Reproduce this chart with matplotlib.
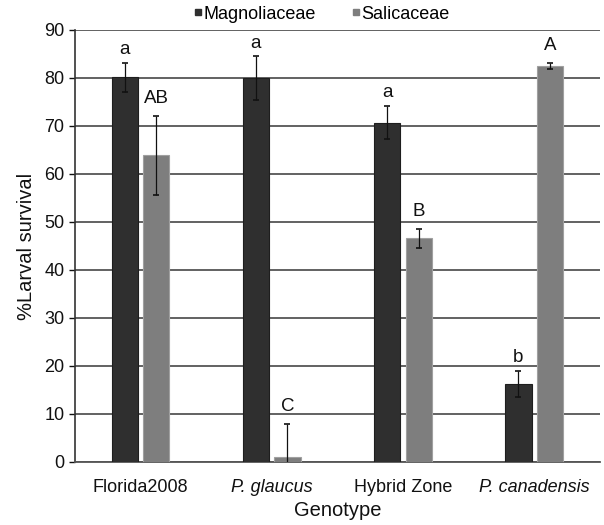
import matplotlib
matplotlib.use("Agg")
import matplotlib.pyplot as plt
import numpy as np
from matplotlib.lines import Line2D

plt.rcParams['font.family'] = ['Liberation Sans', 'DejaVu Sans']

genotypes = ["Florida2008", "P. glaucus", "Hybrid Zone", "P. canadensis"]
italic = [False, True, False, True]
magnoliaceae = [80.1, 79.9, 70.7, 16.3]
magnoliaceae_err = [3.0, 4.6, 3.4, 2.7]
salicaceae = [63.9, 1.1, 46.6, 82.5]
salicaceae_err = [8.2, 6.8, 2.0, 0.6]
mag_letters = ["a", "a", "a", "b"]
sal_letters = ["AB", "C", "B", "A"]

dark = "#2f2f2f"
gray = "#7e7e7e"

fig = plt.figure(figsize=(6.04, 5.25), dpi=100)
ax = fig.add_axes([0.124, 0.12, 0.869, 0.823])

x = np.arange(len(genotypes))
w = 0.2
off = 0.12
ax.bar(x - off, magnoliaceae, w, color=dark, edgecolor="#1e1e1e", linewidth=0.8, zorder=3)
ax.bar(x + off, salicaceae, w, color=gray, edgecolor="#a0a0a0", linewidth=0.8, zorder=3)
ax.errorbar(x - off, magnoliaceae, yerr=magnoliaceae_err, fmt='none', ecolor='#111111',
            elinewidth=0.9, capsize=2.5, capthick=1.2, zorder=4)
ax.errorbar(x + off, salicaceae, yerr=salicaceae_err, fmt='none', ecolor='#111111',
            elinewidth=0.9, capsize=2.5, capthick=1.2, zorder=4)

for i in range(len(genotypes)):
    ax.text(x[i] - off, magnoliaceae[i] + magnoliaceae_err[i] + 1.0, mag_letters[i],
            ha='center', va='bottom', fontsize=13.5, color='#111111')
    ax.text(x[i] + off, salicaceae[i] + salicaceae_err[i] + 1.8, sal_letters[i],
            ha='center', va='bottom', fontsize=13.5, color='#111111')

ax.set_xlim(-0.5, 3.5)
ax.set_ylim(0, 90)
ax.set_yticks(np.arange(0, 91, 10))
ax.yaxis.grid(True, color='#555555', linewidth=1.3, zorder=0)
ax.set_axisbelow(True)
ax.set_xticks(x)
ax.set_xticklabels(genotypes)
for lbl, it in zip(ax.get_xticklabels(), italic):
    if it:
        lbl.set_fontstyle('italic')
ax.tick_params(axis='x', length=0, labelsize=13, pad=12, colors='#111111')
ax.tick_params(axis='y', length=4, width=1, labelsize=13, colors='#111111', direction='out')
for s in ['top', 'right']:
    ax.spines[s].set_visible(False)
ax.spines['left'].set_color('#333333')
ax.spines['left'].set_linewidth(1.2)
ax.spines['bottom'].set_color('#555555')
ax.spines['bottom'].set_linewidth(1.3)

ax.set_ylabel("%Larval survival", fontsize=14.5, color='#111111', labelpad=6)
ax.set_xlabel("Genotype", fontsize=14.5, color='#111111', labelpad=4)

handles = [Line2D([], [], marker='s', linestyle='none', markersize=4.5, color=dark),
           Line2D([], [], marker='s', linestyle='none', markersize=4.5, color=gray)]
fig.legend(handles, ["Magnoliaceae", "Salicaceae"], loc='upper center',
           bbox_to_anchor=(0.533, 1.02), ncol=2, frameon=False, fontsize=13,
           handlelength=0.4, handletextpad=0.1, columnspacing=2.0)

fig.savefig("out.png", dpi=100)
